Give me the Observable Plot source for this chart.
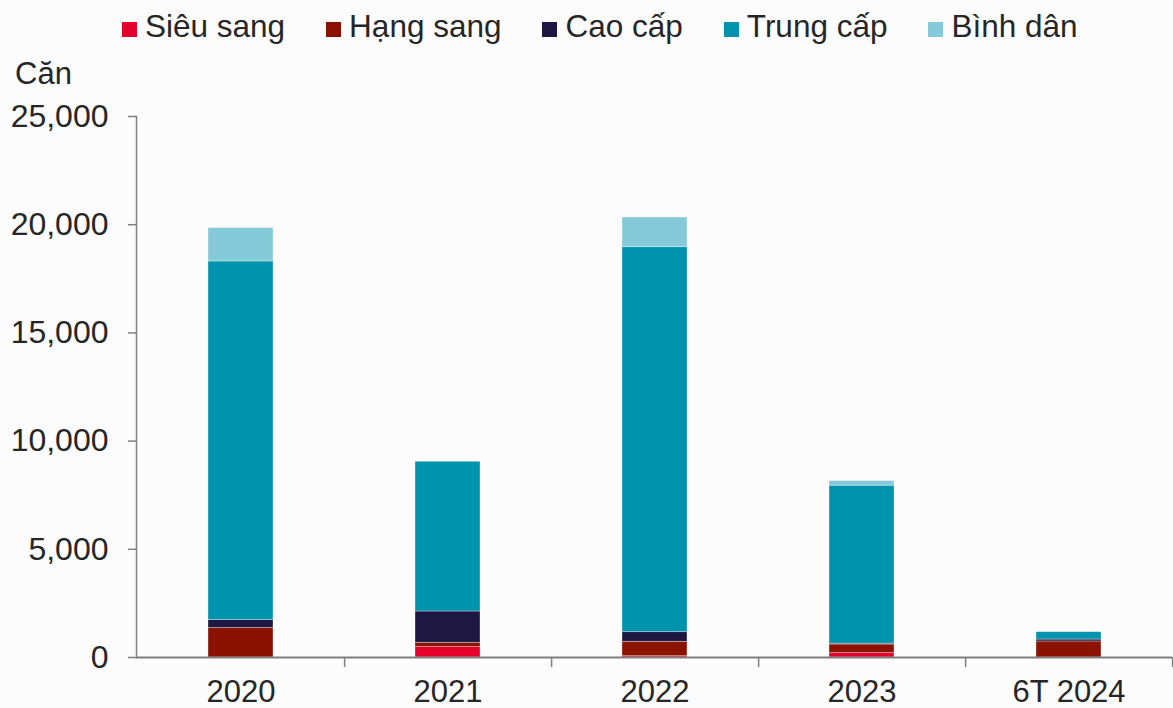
<!DOCTYPE html>
<html>
<head>
<meta charset="utf-8">
<script src="https://cdn.jsdelivr.net/npm/d3@7"></script>
<script src="https://cdn.jsdelivr.net/npm/@observablehq/plot@0.6"></script>
<style>
  html, body { margin: 0; padding: 0; background: #fcfcfc; }
  #wrap { position: relative; width: 1173px; height: 708px; font-family: "Liberation Sans", Arial, sans-serif; color: #262626; }
  #legend { position: absolute; left: 122px; top: 10px; display: flex; gap: 41px; font-size: 31.5px; line-height: 32px; white-space: nowrap; }
  .item { display: flex; align-items: flex-start; }
  .sw { width: 15px; height: 15px; margin-top: 12px; margin-right: 8px; }
  #ylabel { position: absolute; left: 15px; top: 58px; font-size: 31px; line-height: 31px; }
  #chart { position: absolute; left: 0; top: 0; }
</style>
</head>
<body>
<div id="wrap">
  <div id="chart"></div>
  <div id="legend"></div>
  <div id="ylabel">Căn</div>
</div>
<script>
const categories = ["2020", "2021", "2022", "2023", "6T 2024"];
const series = ["Siêu sang", "Hạng sang", "Cao cấp", "Trung cấp", "Bình dân"];
const colors = ["#e4002b", "#8c1200", "#1e1742", "#0093ae", "#84cad8"];
const sieuSang  = [0, 480, 60, 200, 0];
const hangSang  = [1360, 200, 665, 400, 740];
const caoCap    = [370, 1445, 445, 40, 90];
const trungCap  = [16570, 6920, 17790, 7300, 340];
const binhDan   = [1545, 0, 1372, 215, 0];
const yTicks = [0, 5000, 10000, 15000, 20000, 25000];

const seriesValues = [sieuSang, hangSang, caoCap, trungCap, binhDan];
const data = [];
categories.forEach((c, i) => {
  series.forEach((s, j) => data.push({cat: c, series: s, value: seriesValues[j][i]}));
});

const W = 1173, H = 708, ML = 136, MR = 1;
const step = (W - ML - MR) / categories.length;
const axisColor = "#7f7f7f";

const chart = Plot.plot({
  width: W,
  height: H,
  marginLeft: ML,
  marginRight: MR,
  marginTop: 116,
  marginBottom: 51,
  style: {background: "transparent", fontFamily: "Liberation Sans, Arial, sans-serif", color: "#262626", overflow: "visible"},
  x: {domain: categories, paddingInner: 0.686, paddingOuter: 0.343, label: null},
  y: {domain: [0, 25000], label: null},
  color: {domain: series, range: colors},
  marks: [
    Plot.barY(data, Plot.stackY({x: "cat", y: "value", fill: "series", stroke: "#ffffff", strokeOpacity: 0.45, strokeWidth: 0.75})),
    Plot.frame({anchor: "left", stroke: axisColor, strokeWidth: 1.5}),
    Plot.ruleY([0], {stroke: axisColor, strokeWidth: 2}),
    Plot.axisY({ticks: yTicks, tickSize: 8, tickPadding: 20, tickFormat: d3.format(","), fontSize: 32, stroke: axisColor, strokeWidth: 1.5, fill: "#262626", label: null}),
    Plot.axisX({tickSize: 10, tickFormat: () => "", dx: step / 2, stroke: axisColor, strokeWidth: 1.5, label: null}),
    Plot.axisX({tickSize: 0, tickPadding: 22, fontSize: 31, fill: "#262626", label: null})
  ]
});
document.getElementById("chart").appendChild(chart);

const legend = document.getElementById("legend");
series.forEach((s, j) => {
  const it = document.createElement("div");
  it.className = "item";
  const sw = document.createElement("div");
  sw.className = "sw";
  sw.style.background = colors[j];
  const t = document.createElement("span");
  t.textContent = s;
  it.appendChild(sw);
  it.appendChild(t);
  legend.appendChild(it);
});
</script>
</body>
</html>
